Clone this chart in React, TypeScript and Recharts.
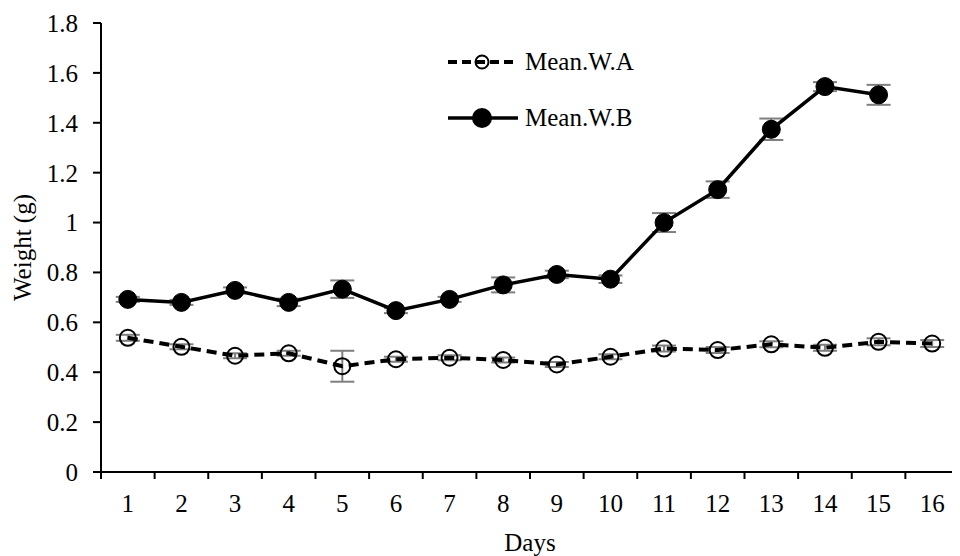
import React from "react";
import { LineChart, Line, XAxis, YAxis, ErrorBar, Legend } from "recharts";

const days = [1, 2, 3, 4, 5, 6, 7, 8, 9, 10, 11, 12, 13, 14, 15, 16];
const meanA = [0.538, 0.502, 0.466, 0.476, 0.424, 0.452, 0.458, 0.449, 0.431, 0.462, 0.495, 0.489, 0.512, 0.498, 0.522, 0.515];
const errA = [0.012, 0.01, 0.01, 0.01, 0.062, 0.01, 0.01, 0.01, 0.01, 0.01, 0.012, 0.012, 0.012, 0.012, 0.014, 0.014];
const meanB = [0.692, 0.68, 0.728, 0.68, 0.733, 0.647, 0.692, 0.75, 0.792, 0.773, 1.0, 1.132, 1.374, 1.545, 1.512, null];
const errB = [0.01, 0.01, 0.012, 0.015, 0.035, 0.01, 0.01, 0.03, 0.015, 0.015, 0.038, 0.033, 0.043, 0.018, 0.04, null];
const yTicks = [0, 0.2, 0.4, 0.6, 0.8, 1, 1.2, 1.4, 1.6, 1.8];
const seriesNames = ["Mean.W.A", "Mean.W.B"];

const FONT = "'Liberation Serif', 'Times New Roman', serif";
const FS = 25;

const data = days.map((d, i) => ({
  day: d,
  a: meanA[i],
  errA: errA[i],
  b: meanB[i],
  errB: errB[i],
}));

// tick marks sit between days, labels sit on the days
const xTicks = days.flatMap((d) => [d - 0.5, d]).concat(days[days.length - 1] + 0.5);

function DayTick({ x, y, payload }: any) {
  const v = payload.value;
  if (Number.isInteger(v)) {
    return (
      <text x={x} y={y + 40} textAnchor="middle" fontSize={FS} fontFamily={FONT} fill="#000">
        {v}
      </text>
    );
  }
  return <line x1={x} y1={y} x2={x} y2={y + 7} stroke="#000" strokeWidth={2} />;
}

function LegendRow({ dashed, label }: { dashed: boolean; label: string }) {
  return (
    <div style={{ display: "flex", alignItems: "center", height: 30, marginBottom: 26 }}>
      <svg width={72} height={20}>
        <line
          x1={1} y1={10} x2={71} y2={10}
          stroke="#000"
          strokeWidth={dashed ? 4 : 3.5}
          strokeDasharray={dashed ? "9 5" : undefined}
        />
        <circle cx={35} cy={10} r={dashed ? 6.5 : 9} fill={dashed ? "none" : "#000"} stroke="#000" strokeWidth={2} />
      </svg>
      <span style={{ marginLeft: 6, fontFamily: FONT, fontSize: FS, color: "#000" }}>{label}</span>
    </div>
  );
}

const renderLegend = () => (
  <div>
    <LegendRow dashed label={seriesNames[0]} />
    <LegendRow dashed={false} label={seriesNames[1]} />
  </div>
);

export default function App() {
  return (
    <LineChart width={952} height={548} data={data} margin={{ top: 15, right: 1, bottom: 0, left: 0 }}>
      <XAxis
        dataKey="day"
        type="number"
        domain={[0.5, 16.5]}
        ticks={xTicks}
        interval={0}
        tick={<DayTick />}
        tickLine={false}
        tickSize={0}
        tickMargin={0}
        axisLine={{ stroke: "#000", strokeWidth: 2 }}
        height={84}
        label={{ value: "Days", position: "insideBottom", offset: 5, fontSize: FS, fontFamily: FONT, fill: "#000" }}
      />
      <YAxis
        domain={[0, 1.8]}
        ticks={yTicks}
        interval={0}
        width={93}
        tickSize={8}
        tickMargin={15}
        tickLine={{ stroke: "#000", strokeWidth: 2 }}
        axisLine={{ stroke: "#000", strokeWidth: 2 }}
        tick={{ fontSize: FS, fontFamily: FONT, fill: "#000" }}
        tickFormatter={(v) => String(Number(v.toFixed(1)))}
        label={{
          value: "Weight (g)",
          angle: -90,
          position: "insideLeft",
          offset: 14,
          style: { textAnchor: "middle", fontSize: FS, fontFamily: FONT, fill: "#000" },
        }}
      />
      <Legend
        layout="vertical"
        align="center"
        verticalAlign="middle"
        content={renderLegend}
        wrapperStyle={{ left: 439, top: 39, width: 260 }}
      />
      <Line
        dataKey="a"
        name={seriesNames[0]}
        stroke="#000"
        strokeWidth={4}
        strokeDasharray="10 6"
        dot={{ r: 8, fill: "none", stroke: "#000", strokeWidth: 2, strokeDasharray: "" }}
        activeDot={false}
        isAnimationActive={false}
      >
        <ErrorBar dataKey="errA" direction="y" width={12} stroke="#7f7f7f" strokeWidth={2} />
      </Line>
      <Line
        dataKey="b"
        name={seriesNames[1]}
        stroke="#000"
        strokeWidth={3.5}
        dot={{ r: 9, fill: "#000", stroke: "#000", strokeWidth: 1 }}
        activeDot={false}
        isAnimationActive={false}
      >
        <ErrorBar dataKey="errB" direction="y" width={12} stroke="#7f7f7f" strokeWidth={2} />
      </Line>
    </LineChart>
  );
}
